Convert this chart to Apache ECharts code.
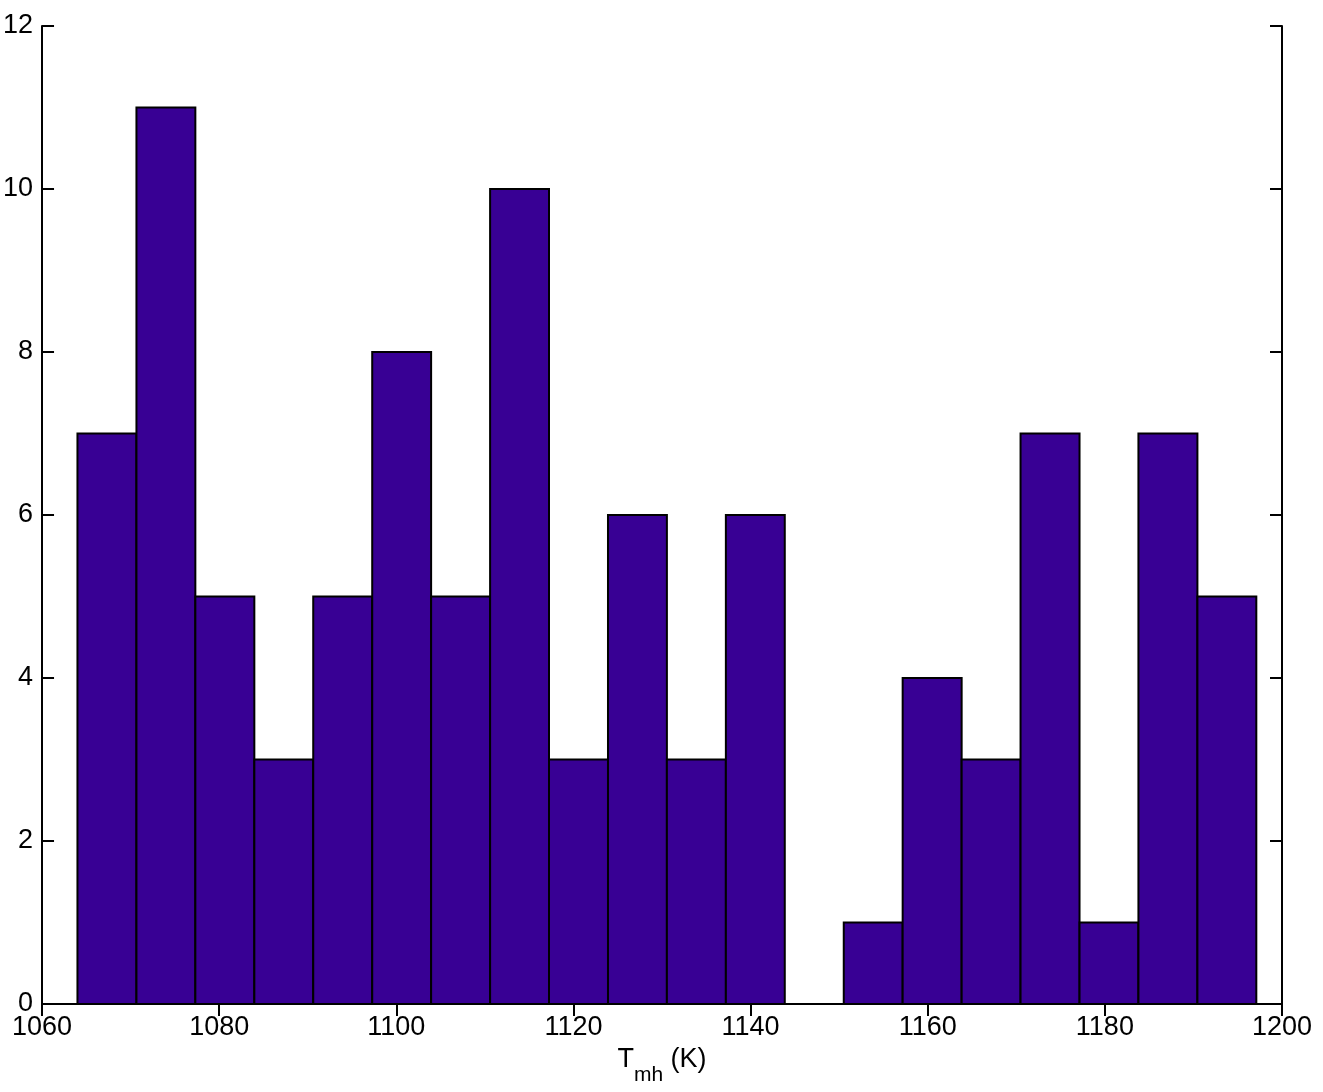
<!DOCTYPE html>
<html>
<head>
<meta charset="utf-8">
<script src="https://cdn.jsdelivr.net/npm/echarts@6/dist/echarts.min.js"></script>
<style>
html,body{margin:0;padding:0;background:#fff;}
#c{width:1323px;height:1092px;}
</style>
</head>
<body>
<div id="c"></div>
<script>
// Histogram bin edges (K)
const binEdges = [1064.0, 1070.66, 1077.31, 1083.97, 1090.62, 1097.28, 1103.93, 1110.59, 1117.24, 1123.90, 1130.55, 1137.21, 1143.86, 1150.52, 1157.17, 1163.83, 1170.48, 1177.14, 1183.79, 1190.45, 1197.10];
// Counts per bin
const counts = [7, 11, 5, 3, 5, 8, 5, 10, 3, 6, 3, 6, 0, 1, 4, 3, 7, 1, 7, 5];
const xTicks = [1060, 1080, 1100, 1120, 1140, 1160, 1180, 1200];
const yTicks = [0, 2, 4, 6, 8, 10, 12];

const data = counts.map((c, i) => [binEdges[i], binEdges[i + 1], c]);

const chart = echarts.init(document.getElementById('c'), null, {renderer: 'canvas'});
const font = 'Liberation Sans, Arial, sans-serif';
const axisCommon = {
  axisLine: {show: true, lineStyle: {color: '#000', width: 2}},
  axisTick: {show: true, inside: true, length: 12, lineStyle: {color: '#000', width: 2}},
  splitLine: {show: false}
};
chart.setOption({
  animation: false,
  backgroundColor: '#fff',
  grid: {left: 42, right: 41, top: 26, bottom: 88, containLabel: false},
  xAxis: [
    Object.assign({
      type: 'value', min: xTicks[0], max: xTicks[xTicks.length - 1], interval: 20,
      position: 'bottom',
      axisLabel: {color: '#000', fontSize: 27, fontFamily: font, margin: 10, formatter: v => String(v)},
      name: '{a|T}{b|mh}{a| (K)}',
      nameLocation: 'middle', nameGap: 42,
      nameTextStyle: {
        rich: {
          a: {fontSize: 27, fontFamily: font, color: '#000', verticalAlign: 'top', lineHeight: 30},
          b: {fontSize: 21, fontFamily: font, color: '#000', verticalAlign: 'top', padding: [19, 0, 0, 0], lineHeight: 30}
        }
      }
    }, axisCommon),
    Object.assign({
      type: 'value', min: xTicks[0], max: xTicks[xTicks.length - 1], interval: 20,
      position: 'top', axisLabel: {show: false}
    }, axisCommon)
  ],
  yAxis: [
    Object.assign({
      type: 'value', min: yTicks[0], max: yTicks[yTicks.length - 1], interval: 2,
      position: 'left',
      axisLabel: {color: '#000', fontSize: 27, fontFamily: font, margin: 9}
    }, axisCommon),
    Object.assign({
      type: 'value', min: yTicks[0], max: yTicks[yTicks.length - 1], interval: 2,
      position: 'right', axisLabel: {show: false}
    }, axisCommon)
  ],
  series: [{
    type: 'custom',
    xAxisIndex: 0, yAxisIndex: 0,
    data: data,
    encode: {x: [0, 1], y: 2},
    renderItem: function (params, api) {
      const c = api.value(2);
      if (c <= 0) return null;
      const p0 = api.coord([api.value(0), c]);
      const p1 = api.coord([api.value(1), 0]);
      return {
        type: 'rect',
        shape: {x: p0[0], y: p0[1], width: p1[0] - p0[0], height: p1[1] - p0[1]},
        style: {fill: '#380094', stroke: '#000', lineWidth: 2}
      };
    }
  }]
});
</script>
</body>
</html>
